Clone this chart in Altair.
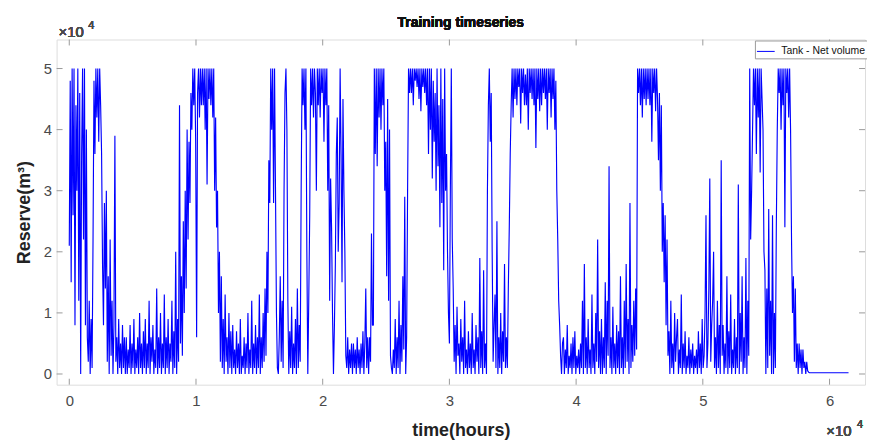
import altair as alt
import pandas as pd

# ---- data: tank net volume, sampled every 75 hours, values in 1000 m^3 ----
STEP_HOURS = 75
seg_00 = [21, 48, 15, 50, 26, 50, 8, 44, 30, 50, 12, 46, 0, 36, 50, 22, 50, 8, 40, 6,
          2, 12, 0, 9, 1, 22, 48, 36, 50, 42, 50, 38, 50, 44, 36, 18, 8, 28, 14, 30,
          2, 16, 0, 22, 3, 12, 0, 8, 39, 2, 6, 0, 9, 1, 5, 0, 8, 1, 6, 0,
          6, 0, 4, 1, 8, 0, 5, 1, 9, 0, 4, 1, 6, 0, 10, 1, 5, 0, 7, 1]
seg_06 = [9, 0, 5, 1, 12, 0, 6, 2, 8, 0, 4, 1, 14, 0, 6, 1, 10, 0, 5, 1,
          13, 0, 6, 1, 9, 0, 5, 2, 12, 0, 7, 1, 20, 0, 9, 2, 44, 5, 16, 3,
          25, 10, 30, 14, 40, 22, 38, 28, 46, 40, 50, 44, 50, 38, 6, 46, 50, 42, 50, 44,
          50, 44, 50, 40, 50, 31, 50, 45, 50, 44, 50, 42, 50, 30, 42, 24, 30, 10, 20, 2]
seg_12 = [16, 1, 9, 0, 13, 2, 6, 0, 10, 1, 7, 0, 8, 1, 4, 0, 7, 1, 5, 0,
          9, 0, 3, 1, 6, 0, 5, 1, 10, 0, 4, 1, 12, 0, 5, 1, 8, 0, 6, 1,
          13, 0, 6, 1, 10, 2, 14, 3, 20, 10, 35, 28, 50, 40, 50, 28, 50, 30, 10, 1,
          0, 6, 16, 2, 12, 1, 30, 46, 50, 40, 12, 0, 7, 1, 11, 0, 5, 1, 9, 0]
seg_18 = [14, 1, 8, 2, 30, 50, 44, 50, 40, 50, 20, 0, 12, 26, 50, 44, 50, 42, 50, 46,
          30, 50, 44, 50, 42, 50, 46, 50, 38, 50, 44, 50, 30, 44, 12, 32, 24, 10, 0, 8,
          18, 36, 42, 20, 28, 50, 36, 15, 45, 30, 20, 3, 1, 6, 0, 4, 1, 5, 0, 5,
          1, 4, 0, 6, 1, 4, 0, 5, 1, 7, 0, 5, 14, 1, 6, 0, 6, 2, 23, 8]
seg_24 = [8, 50, 36, 50, 34, 50, 42, 50, 40, 50, 44, 50, 30, 38, 16, 45, 12, 40, 3, 1,
          0, 4, 1, 9, 0, 6, 1, 12, 0, 8, 2, 16, 4, 29, 0, 6, 30, 50, 46, 50,
          46, 50, 44, 50, 48, 50, 47, 50, 45, 50, 43, 50, 47, 50, 46, 50, 44, 50, 36, 50,
          40, 50, 32, 48, 38, 46, 30, 50, 34, 44, 24, 50, 28, 45, 17, 50, 30, 36, 20, 10]
seg_30 = [5, 30, 50, 22, 14, 2, 8, 0, 11, 3, 5, 0, 9, 2, 6, 0, 12, 1, 4, 0,
          7, 1, 5, 0, 10, 1, 4, 0, 8, 2, 6, 0, 19, 1, 7, 0, 17, 1, 5, 0,
          30, 44, 50, 38, 46, 20, 2, 8, 13, 1, 25, 0, 6, 1, 10, 0, 7, 2, 18, 1,
          6, 1, 14, 24, 36, 44, 50, 42, 50, 45, 50, 44, 50, 47, 50, 41, 50, 46, 50, 44]
seg_36 = [49, 44, 50, 40, 50, 46, 50, 45, 50, 44, 50, 37, 50, 45, 50, 43, 50, 44, 50, 46,
          50, 45, 50, 40, 50, 46, 50, 42, 50, 45, 50, 40, 48, 30, 22, 12, 8, 3, 0, 5,
          6, 0, 4, 1, 8, 0, 3, 1, 5, 0, 6, 1, 7, 0, 3, 1, 4, 0, 5, 1,
          12, 0, 18, 1, 6, 0, 9, 1, 4, 0, 13, 1, 5, 0, 10, 2, 22, 1, 7, 0]
seg_42 = [9, 0, 6, 1, 15, 0, 12, 3, 34, 1, 6, 0, 11, 1, 5, 0, 8, 1, 7, 0,
          16, 1, 6, 0, 12, 1, 18, 2, 9, 0, 28, 1, 8, 2, 12, 3, 14, 4, 50, 46,
          50, 44, 50, 42, 50, 45, 50, 44, 50, 45, 50, 44, 50, 38, 50, 46, 50, 43, 50, 45,
          35, 46, 30, 44, 20, 28, 15, 26, 8, 22, 3, 7, 0, 12, 1, 5, 0, 10, 2, 6]
seg_48 = [9, 0, 4, 1, 13, 0, 5, 1, 7, 0, 3, 1, 6, 0, 4, 1, 5, 0, 3, 1,
          4, 0, 7, 1, 5, 0, 9, 1, 3, 10, 26, 1, 5, 14, 32, 2, 8, 12, 20, 1,
          6, 0, 12, 1, 8, 0, 35, 3, 8, 0, 5, 1, 16, 0, 7, 1, 13, 0, 4, 1,
          9, 0, 6, 1, 31, 0, 10, 2, 16, 0, 6, 1, 19, 0, 12, 3, 50, 22, 30, 40]
seg_54 = [50, 44, 50, 36, 50, 42, 50, 33, 50, 45, 40, 20, 17, 0, 14, 1, 27, 3, 12, 0,
          26, 0, 10, 1, 24, 40, 50, 46, 50, 40, 50, 44, 50, 24, 50, 46, 50, 42, 50, 40,
          22, 10, 16, 2, 14, 1, 5, 0, 5, 1, 4, 0, 4, 1, 2, 0, 2, 0.5, 0.3, 0.2,
          0.2, 0.2, 0.2, 0.2, 0.2, 0.2, 0.2, 0.2, 0.2, 0.2, 0.2, 0.2, 0.2, 0.2, 0.2, 0.2, 0.2, 0.2, 0.2, 0.2]
seg_60 = [0.2, 0.2, 0.2, 0.2, 0.2, 0.2, 0.2, 0.2, 0.2, 0.2, 0.2,
          0.2, 0.2, 0.2, 0.2, 0.2, 0.2, 0.2, 0.2, 0.2, 0.2]

x_ticks = [0, 10000, 20000, 30000, 40000, 50000, 60000]
y_ticks = [0, 10000, 20000, 30000, 40000, 50000]
series_name = "Tank - Net volume"
title_text = "Training timeseries"

segments = [seg_00, seg_06, seg_12, seg_18, seg_24, seg_30, seg_36, seg_42, seg_48, seg_54, seg_60]
vals = [v for s in segments for v in s]
df = pd.DataFrame({
    "time": [i * STEP_HOURS for i in range(len(vals))],
    "reserve": [v * 1000 for v in vals],
    "series": [series_name] * len(vals),
})
xt = pd.DataFrame({"time": x_ticks})
yt = pd.DataFrame({"reserve": y_ticks})

W, H = 815, 348
FONT = "Liberation Sans"
GRAY = "#9a9a9a"
LBL = "#4a4a4a"

xscale = alt.Scale(domain=[-1000, 62800], nice=False, zero=False)
yscale = alt.Scale(domain=[-1750, 54750], nice=False, zero=False)

x_axis = alt.Axis(values=x_ticks, labelExpr="'' + datum.value/10000", title="time(hours)",
                  ticks=False, domain=False, grid=False, labelPadding=9,
                  labelFontSize=15, labelColor=LBL, labelFont=FONT,
                  titleFontSize=18, titleFont=FONT, titleFontWeight="bold",
                  titleColor="#222222", titlePadding=13)
y_axis = alt.Axis(values=y_ticks, labelExpr="'' + datum.value/10000", title="Reserve(m³)",
                  ticks=False, domain=False, grid=False, labelPadding=5,
                  labelFontSize=15, labelColor=LBL, labelFont=FONT,
                  titleFontSize=18, titleFont=FONT, titleFontWeight="bold",
                  titleColor="#222222", titlePadding=10)

line = alt.Chart(df).mark_line(strokeWidth=1.15, strokeJoin="bevel", clip=True).encode(
    x=alt.X("time:Q", scale=xscale, axis=x_axis),
    y=alt.Y("reserve:Q", scale=yscale, axis=y_axis),
    color=alt.Color("series:N", scale=alt.Scale(range=["#0000ff"]),
                    legend=alt.Legend(orient="none", legendX=704, legendY=1, title=None,
                                      symbolType="stroke", symbolSize=320, symbolStrokeWidth=1,
                                      labelFontSize=10.5, labelFont=FONT, labelColor="#111111",
                                      strokeColor=GRAY, fillColor="white", padding=1.5,
                                      labelOffset=6)),
)

tick_b = alt.Chart(xt).mark_rule(color=GRAY, strokeWidth=1).encode(
    x=alt.X("time:Q", scale=xscale, axis=x_axis), y=alt.value(H), y2=alt.value(H - 6))
tick_t = alt.Chart(xt).mark_rule(color=GRAY, strokeWidth=1).encode(
    x=alt.X("time:Q", scale=xscale, axis=x_axis), y=alt.value(0), y2=alt.value(6))
tick_l = alt.Chart(yt).mark_rule(color=GRAY, strokeWidth=1).encode(
    y=alt.Y("reserve:Q", scale=yscale, axis=y_axis), x=alt.value(0), x2=alt.value(6))
tick_r = alt.Chart(yt).mark_rule(color=GRAY, strokeWidth=1).encode(
    y=alt.Y("reserve:Q", scale=yscale, axis=y_axis), x=alt.value(W), x2=alt.value(W - 6))

ttl = alt.Chart(xt).mark_text(text=title_text, align="center", baseline="alphabetic", fontSize=14,
                              fontWeight="bold", font=FONT, color="#111111").encode(
    x=alt.value(W / 2), y=alt.value(-13))
exp_tl = alt.Chart(xt).mark_text(text="×10", align="left", baseline="alphabetic", fontSize=15,
                                 font=FONT, color=LBL).encode(x=alt.value(2), y=alt.value(-3))
exp_tl4 = alt.Chart(xt).mark_text(text="4", align="left", baseline="alphabetic", fontSize=11,
                                  font=FONT, color=LBL).encode(x=alt.value(32), y=alt.value(-11))
exp_br = alt.Chart(xt).mark_text(text="×10", align="left", baseline="alphabetic", fontSize=15,
                                 font=FONT, color=LBL).encode(x=alt.value(776), y=alt.value(400))
exp_br4 = alt.Chart(xt).mark_text(text="4", align="left", baseline="alphabetic", fontSize=11,
                                  font=FONT, color=LBL).encode(x=alt.value(807), y=alt.value(392))

chart = alt.layer(line, tick_b, tick_t, tick_l, tick_r, ttl, exp_tl, exp_tl4, exp_br, exp_br4).properties(
    width=W, height=H,
    autosize=alt.AutoSizeParams(type="none"),
    padding={"left": 49, "top": 30, "right": 2, "bottom": 54},
).configure_view(stroke=GRAY, strokeWidth=1).configure(background="white")

chart.save("out.html", embed_options={"renderer": "svg", "actions": False})
